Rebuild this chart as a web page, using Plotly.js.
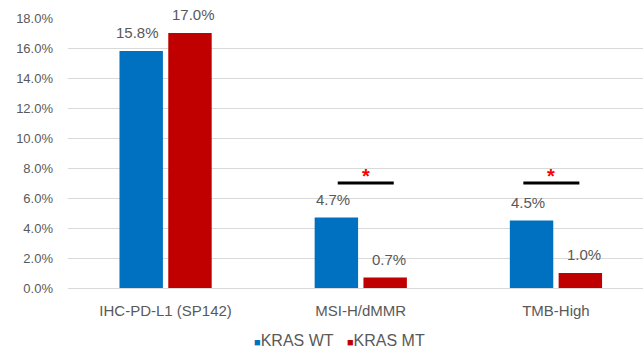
<!DOCTYPE html>
<html>
<head>
<meta charset="utf-8">
<script src="https://cdn.plot.ly/plotly-3.0.1.min.js"></script>
<style>
  html, body { margin: 0; padding: 0; background: #fff; overflow: hidden; }
  #chart { width: 643px; height: 354px; }
</style>
</head>
<body>
<div id="chart"></div>
<script>
// Biomarker prevalence by KRAS status
const categories = ['IHC-PD-L1 (SP142)', 'MSI-H/dMMR', 'TMB-High'];
const krasWT = [15.8, 4.7, 4.5];
const krasMT = [17.0, 0.7, 1.0];
const seriesNames = ['KRAS WT', 'KRAS MT'];
const significant = [false, true, true];
const sigLevel = 7.0;      // height of the comparison bar
const yTicks = [0, 2, 4, 6, 8, 10, 12, 14, 16, 18];

const blue = '#0070C0';
const red = '#C00000';
const grey = '#595959';
const font = 'Liberation Sans, Arial, sans-serif';

const traces = [
  { type: 'bar', name: seriesNames[0], x: categories, y: krasWT,
    marker: { color: blue }, hoverinfo: 'skip', showlegend: false },
  { type: 'bar', name: seriesNames[1], x: categories, y: krasMT,
    marker: { color: red }, hoverinfo: 'skip', showlegend: false }
];

// value labels above each bar (bar offset in px from category centre)
const barShift = 28;
const annotations = [];
categories.forEach((c, i) => {
  annotations.push({ x: i, y: krasWT[i], xref: 'x', yref: 'y', xshift: -barShift,
    yshift: 8, yanchor: 'bottom', text: krasWT[i].toFixed(1) + '%', showarrow: false,
    font: { family: font, size: 15, color: grey } });
  annotations.push({ x: i, y: krasMT[i], xref: 'x', yref: 'y', xshift: barShift,
    yshift: 8, yanchor: 'bottom', text: krasMT[i].toFixed(1) + '%', showarrow: false,
    font: { family: font, size: 15, color: grey } });
});

// significance brackets with red asterisks
const shapes = [];
const sigSpan = [null, [-0.118, 0.169], [-0.167, 0.12]];
categories.forEach((c, i) => {
  if (!significant[i]) return;
  const [a, b] = sigSpan[i];
  shapes.push({ type: 'line', xref: 'x', yref: 'y', x0: i + a, x1: i + b,
    y0: sigLevel, y1: sigLevel, line: { color: '#000', width: 3 } });
  annotations.push({ x: i + (a + b) / 2, y: sigLevel, xref: 'x', yref: 'y',
    yanchor: 'bottom', yshift: -6, text: '<b>*</b>', showarrow: false,
    font: { family: font, size: 20, color: '#FF0000' } });
});

// series key below the axis
const swatch = (color) => '<span style="color:' + color + ';font-size:11px">■</span>';
annotations.push({
  xref: 'paper', yref: 'paper', x: 0.473, y: -0.193, xanchor: 'center', yanchor: 'middle',
  showarrow: false, font: { family: font, size: 16, color: grey },
  text: swatch(blue) + seriesNames[0] + '&nbsp;&nbsp;&nbsp;' + swatch(red) + seriesNames[1]
});

const layout = {
  width: 643, height: 354,
  margin: { l: 68, r: 0, t: 18, b: 66 },
  paper_bgcolor: '#fff', plot_bgcolor: '#fff',
  barmode: 'group', bargap: 0.5, bargroupgap: 0.11,
  font: { family: font, size: 13, color: grey },
  xaxis: {
    type: 'category', range: [-0.5, 2.446], showgrid: false,
    showline: true, linecolor: '#d9d9d9', linewidth: 1,
    ticks: '', ticklabelstandoff: 9,
    tickfont: { family: font, size: 15, color: grey }, fixedrange: true
  },
  yaxis: {
    range: [0, 18], tickvals: yTicks, ticktext: yTicks.map(v => v.toFixed(1) + '%'),
    showgrid: true, gridcolor: '#d9d9d9', gridwidth: 1, zeroline: false,
    showline: false, ticks: '', ticklabelstandoff: 14,
    tickfont: { family: font, size: 13, color: grey }, fixedrange: true
  },
  showlegend: false,
  shapes: shapes,
  annotations: annotations
};

Plotly.newPlot('chart', traces, layout, { displayModeBar: false, staticPlot: true });
</script>
</body>
</html>
